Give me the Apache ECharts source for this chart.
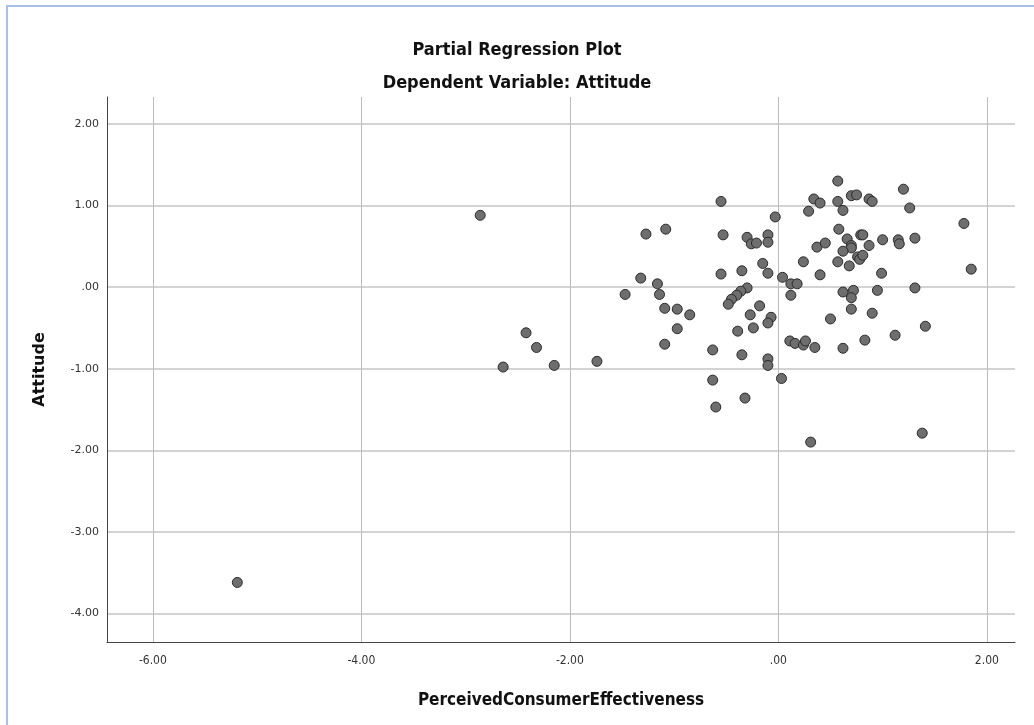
<!DOCTYPE html>
<html>
<head>
<meta charset="utf-8">
<script src="https://cdn.jsdelivr.net/npm/echarts@6/dist/echarts.min.js"></script>
<style>
  html, body { margin: 0; padding: 0; background: #fff; }
  #frame { position: absolute; left: 6px; top: 5px; right: 0; bottom: 0; border-left: 2px solid #a9bfe6; border-top: 2px solid #a9bfe6; }
  #chart { position: absolute; left: 0; top: 0; width: 1034px; height: 725px; }
</style>
</head>
<body>
<div id="frame"></div>
<div id="chart"></div>
<script>
// x = PerceivedConsumerEffectiveness residual, y = Attitude residual
const pceX = [
  -5.19, -2.86, -2.64, -2.42, -2.32, -2.15, -1.74,
  -1.27, -1.08, -1.32, -1.16, -1.14, -1.47, -1.09, -0.97, -0.97, -1.09, -0.85,
  -0.55, -0.53, -0.30, -0.26, -0.21, -0.10, -0.10, -0.03, -0.15, -0.10, -0.55, -0.35,
  -0.30, -0.36, -0.40, -0.45, -0.48, -0.18, -0.27, -0.07,
  0.04, 0.12, 0.18, 0.12, 0.24, 0.40, 0.37, 0.45, 0.29, 0.34, 0.40, 0.57, 0.57, 0.62,
  0.70, 0.75, 0.58, 0.66, 0.70, 0.70, 0.62, 0.57, 0.68, 0.76, 0.78, 0.62, 0.72, 0.70,
  0.70, 0.79,
  -0.10, -0.39, -0.24, -0.63, -0.35, -0.10, -0.10, 0.03, -0.63, -0.32, -0.60, 0.31,
  0.11, 0.16, 0.24, 0.26, 0.35, 0.50, 0.62,
  0.87, 0.90, 1.20, 1.26, 1.78, 0.81, 0.87, 1.00, 1.15, 1.16, 1.31, 0.81, 0.99, 1.85,
  0.95, 1.31, 0.90,
  1.41, 0.83, 1.12, 1.38
];
const attitudeY = [
  -3.62, 0.88, -0.98, -0.56, -0.74, -0.96, -0.91,
  0.65, 0.71, 0.11, 0.04, -0.09, -0.09, -0.26, -0.27, -0.51, -0.70, -0.34,
  1.05, 0.64, 0.61, 0.53, 0.54, 0.64, 0.55, 0.86, 0.29, 0.17, 0.16, 0.20,
  -0.01, -0.05, -0.10, -0.15, -0.21, -0.23, -0.34, -0.37,
  0.12, 0.04, 0.04, -0.10, 0.31, 0.15, 0.49, 0.54, 0.93, 1.08, 1.03, 1.30, 1.05, 0.94,
  1.12, 1.13, 0.71, 0.59, 0.51, 0.48, 0.44, 0.31, 0.26, 0.37, 0.34, -0.06, -0.04, -0.13,
  -0.27, 0.64,
  -0.44, -0.54, -0.50, -0.77, -0.83, -0.88, -0.96, -1.12, -1.14, -1.36, -1.47, -1.90,
  -0.66, -0.69, -0.71, -0.66, -0.74, -0.39, -0.75,
  1.08, 1.05, 1.20, 0.97, 0.78, 0.64, 0.51, 0.58, 0.58, 0.53, 0.60, 0.39, 0.17, 0.22,
  -0.04, -0.01, -0.32,
  -0.48, -0.65, -0.59, -1.79
];
const xTicks = [-6, -4, -2, 0, 2];
const yTicks = [-4, -3, -2, -1, 0, 1, 2];

const narrow = "'Liberation Sans Narrow', 'DejaVu Sans Condensed', 'Roboto Condensed', 'Open Sans', sans-serif";
const fmt = v => (v === 0 ? '.00' : v.toFixed(2));
const points = pceX.map((x, i) => [x, attitudeY[i]]);

const chart = echarts.init(document.getElementById('chart'));
chart.setOption({
  animation: false,
  title: [
    {
      text: 'Partial Regression Plot', left: 'center', top: 36,
      textStyle: { fontFamily: narrow, fontWeight: 'bold', fontSize: 18, color: '#111' }
    },
    {
      text: 'Dependent Variable: Attitude', left: 'center', top: 69,
      textStyle: { fontFamily: narrow, fontWeight: 'bold', fontSize: 18, color: '#111' }
    }
  ],
  grid: { left: 107, right: 19, top: 97, bottom: 83 },
  xAxis: {
    type: 'value', min: -6.44, max: 2.27,
    name: 'PerceivedConsumerEffectiveness', nameLocation: 'middle', nameGap: 50,
    nameTextStyle: { fontFamily: narrow, fontWeight: 'bold', fontSize: 17, color: '#111' },
    axisLine: { show: true, onZero: false, lineStyle: { color: '#444', width: 1 } },
    axisTick: { show: false, customValues: xTicks },
    axisLabel: { customValues: xTicks, formatter: fmt, margin: 13, fontFamily: narrow, fontSize: 12, color: '#333' },
    splitLine: { show: true, lineStyle: { color: '#bdbdbd', width: 1 } }
  },
  yAxis: {
    type: 'value', min: -4.35, max: 2.33,
    name: 'Attitude', nameLocation: 'middle', nameGap: 59, nameRotate: 90,
    nameTextStyle: { fontFamily: 'DejaVu Sans', fontWeight: 'bold', fontSize: 16, color: '#111' },
    axisLine: { show: true, onZero: false, lineStyle: { color: '#444', width: 1 } },
    axisTick: { show: false, customValues: yTicks },
    axisLabel: { customValues: yTicks, formatter: fmt, margin: 8, fontFamily: 'DejaVu Sans', fontSize: 11, color: '#333' },
    splitLine: { show: true, lineStyle: { color: '#d3d3d3', width: 2 } }
  },
  series: [{
    type: 'scatter',
    data: points,
    symbolSize: 10,
    itemStyle: { color: '#6e6e6e', borderColor: '#2a2a2a', borderWidth: 1, opacity: 1 }
  }]
});
</script>
</body>
</html>
